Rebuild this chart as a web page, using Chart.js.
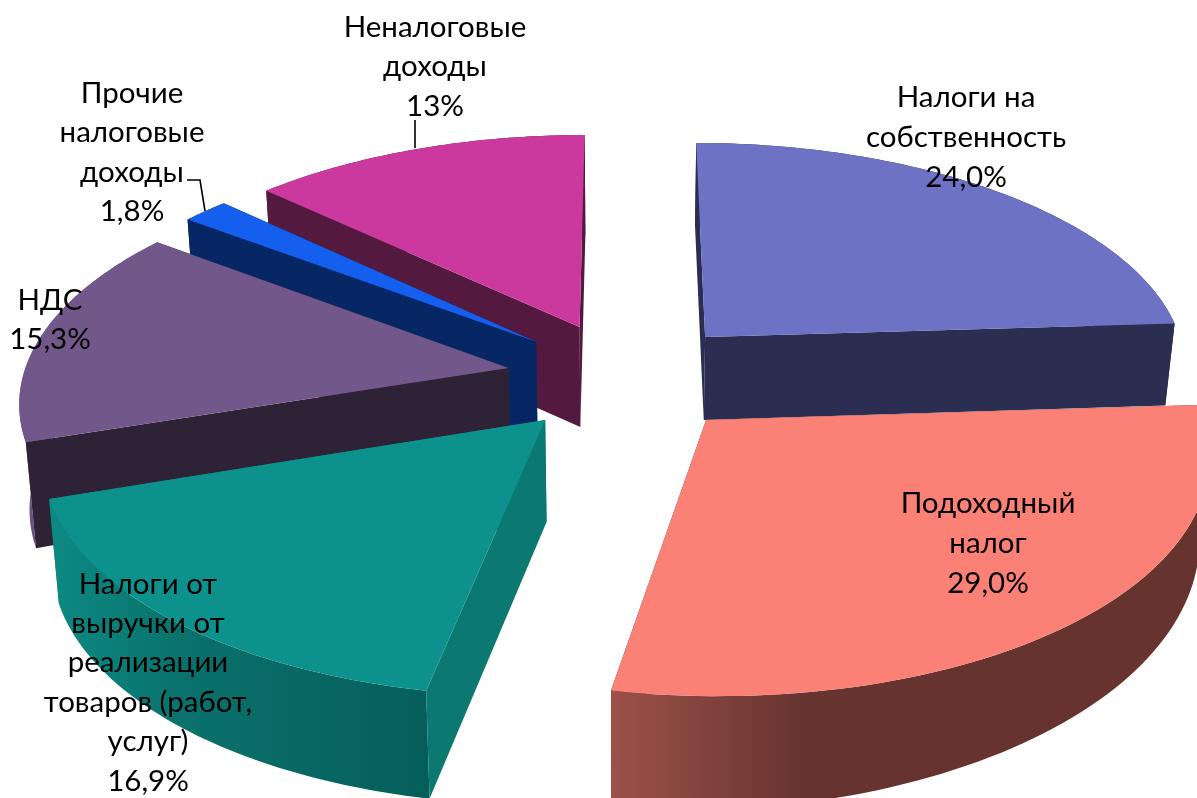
<!DOCTYPE html>
<html>
<head>
<meta charset="utf-8">
<style>html,body{margin:0;padding:0;background:#fff;overflow:hidden}canvas{display:block}</style>
<script src="https://cdn.jsdelivr.net/npm/chart.js@4"></script>
</head>
<body>
<canvas id="c" width="1197" height="798"></canvas>
<script>
// ---- data ----
const categories = ["Налоги на собственность","Подоходный налог","Налоги от выручки от реализации товаров (работ, услуг)","НДС","Прочие налоговые доходы","Неналоговые доходы"];
const values = [24.0, 29.0, 16.9, 15.3, 1.8, 13];
const valueLabels = ["24,0%","29,0%","16,9%","15,3%","1,8%","13%"];
const labelLines = [["Налоги на","собственность"],["Подоходный","налог"],["Налоги от","выручки от","реализации","товаров (работ,","услуг)"],["НДС"],["Прочие","налоговые","доходы"],["Неналоговые","доходы"]];

// ---- style ----
const topColors = ["#6d72c4","#fb8176","#0d918c","#72578a","#155fef","#cb399f"];
const wallColors = ["#2b2e50","#66332f","#0b7871","#2d2236","#072764","#54193f"];
const rimGradients = [null,[[0,"#9c5149"],[0.33,"#66332f"],[1,"#66332f"]],[[0,"#0c8a83"],[0.35,"#0a716c"],[1,"#065e5a"]],[[0,"#6a5280"],[1,"#6a5280"]],null,null];
// wall depth at [first rim corner, last rim corner, centre corner]
const wallDepths = [[83,82,83],[78,118,85],[108,105,102],[106,100,95],[100,100,100],[100,100,100]];
// label block centre x and first line centre y, line step
const labelPlaces = [[966,97,40],[988,503,40],[148,584,39.4],[50,300,39],[132,93,39.5],[435,27,39.5]];
const leaderLines = [[[415,120],[415,148]],[[187,180],[200,180],[205,211]]];
const labelFont = '29.5px Lato, "Open Sans", sans-serif';

// perspective of the pie plane
const view = {cx:625.5, horizon:-1400, h:13812, k:3775, dist:7.773, explode:0.245, lean:0.017};
function project(X, Y, z, depth){
  const u = view.dist - Y;
  const x = view.cx + view.k * X / u;
  const y = view.horizon + view.h / u;
  return [view.cx + (x - view.cx) * (1 - view.lean * z), y + z * depth];
}

function fillPoly(ctx, pts, fill){
  ctx.beginPath();
  pts.forEach((p,i)=> i ? ctx.lineTo(p[0],p[1]) : ctx.moveTo(p[0],p[1]));
  ctx.closePath();
  ctx.fillStyle = fill;
  ctx.fill();
}

const pie3d = {
  id:'pie3d',
  beforeDatasetsDraw(chart){
    const ctx = chart.ctx;
    const arcs = chart.getDatasetMeta(0).data.map((arc,i)=>{
      const a0 = arc.startAngle, a1 = arc.endAngle, mid = (a0+a1)/2;
      return {i, arc, a0, a1, mid, ox:view.explode*Math.cos(mid), oy:view.explode*Math.sin(mid)};
    }).sort((p,q)=> Math.sin(p.mid)-Math.sin(q.mid));
    ctx.save();
    arcs.forEach(s=>{
      const d = wallDepths[s.i];
      const n = 72, top = [], bottom = [];
      for(let j=0;j<=n;j++){
        const t = j/n, a = s.a0 + (s.a1-s.a0)*t, dep = d[0]+(d[1]-d[0])*t;
        const X = s.ox+Math.cos(a), Y = s.oy+Math.sin(a);
        top.push(project(X,Y,0,0));
        bottom.push(project(X,Y,1,dep));
      }
      const apexTop = project(s.ox,s.oy,0,0), apexBot = project(s.ox,s.oy,1,d[2]);
      const wall = wallColors[s.i];
      const wallA = [apexTop,top[0],bottom[0],apexBot], wallB = [apexTop,top[n],bottom[n],apexBot];
      const facesA = -Math.cos(s.a0) > 0.01, facesB = Math.cos(s.a1) > 0.01;
      if(!facesA) fillPoly(ctx,wallA,wall);
      if(!facesB) fillPoly(ctx,wallB,wall);
      let rimFill = wall;
      const stops = rimGradients[s.i];
      const rim = top.concat(bottom.slice().reverse());
      if(stops){
        const xs = rim.map(p=>p[0]);
        const g = ctx.createLinearGradient(Math.min(...xs),0,Math.max(...xs),0);
        stops.forEach(o=>g.addColorStop(o[0],o[1]));
        rimFill = g;
      }
      fillPoly(ctx,rim,rimFill);
      if(facesA) fillPoly(ctx,wallA,wall);
      if(facesB) fillPoly(ctx,wallB,wall);
      fillPoly(ctx,[apexTop].concat(top),s.arc.options.backgroundColor);
    });
    ctx.restore();
    return false;
  },
  afterDraw(chart){
    const ctx = chart.ctx;
    ctx.save();
    ctx.strokeStyle = "#000"; ctx.lineWidth = 1.6;
    leaderLines.forEach(l=>{
      ctx.beginPath();
      l.forEach((p,i)=> i ? ctx.lineTo(p[0],p[1]) : ctx.moveTo(p[0],p[1]));
      ctx.stroke();
    });
    ctx.fillStyle = "#000"; ctx.font = labelFont;
    ctx.textAlign = "center"; ctx.textBaseline = "middle";
    labelLines.forEach((lines,i)=>{
      const [x,y,step] = labelPlaces[i];
      lines.concat([valueLabels[i]]).forEach((t,j)=> ctx.fillText(t,x,y+j*step));
    });
    ctx.restore();
  }
};

new Chart(document.getElementById('c'),{
  type:'pie',
  data:{labels:categories,datasets:[{data:values,backgroundColor:topColors,borderWidth:0}]},
  options:{responsive:false,animation:false,events:[],
    plugins:{legend:{display:false},tooltip:{enabled:false}}},
  plugins:[pie3d]
});
</script>
</body>
</html>
